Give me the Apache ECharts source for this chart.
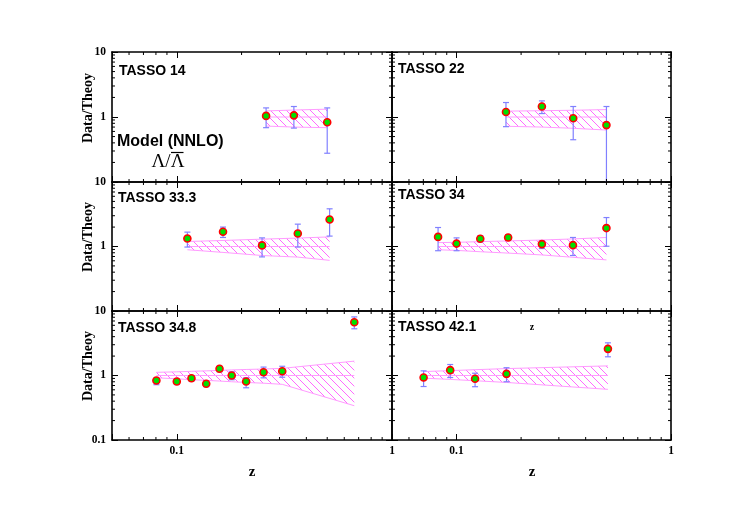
<!DOCTYPE html>
<html><head><meta charset="utf-8">
<script src="https://cdn.jsdelivr.net/npm/echarts@6/dist/echarts.min.js"></script>
<style>html,body{margin:0;padding:0;background:#fff}#c{width:747px;height:518px}</style>
</head><body><div id="c"></div>
<script>
// ---------------- data ----------------
const panelNames = ['TASSO 14', 'TASSO 22', 'TASSO 33.3', 'TASSO 34', 'TASSO 34.8', 'TASSO 42.1'];
const xTickLabels = ['0.1', '1'];
const yTickLabels = ['0.1', '1', '10'];

// TASSO 14
const z14 = [0.26, 0.35, 0.50];
const r14 = [1.04, 1.06, 0.83];
const lo14 = [0.685, 0.675, 0.277];
const hi14 = [1.38, 1.45, 1.38];
const bz14 = [0.26, 0.35, 0.50];
const bhi14 = [1.24, 1.28, 1.32];
const blo14 = [0.725, 0.70, 0.685];
// TASSO 22
const z22 = [0.17, 0.25, 0.35, 0.50];
const r22 = [1.195, 1.45, 0.955, 0.75];
const lo22 = [0.71, 1.13, 0.447, 0.05];
const hi22 = [1.67, 1.77, 1.45, 1.45];
const bz22 = [0.17, 0.25, 0.35, 0.50];
const bhi22 = [1.23, 1.25, 1.27, 1.30];
const blo22 = [0.72, 0.70, 0.67, 0.63];
// TASSO 33.3
const z333 = [0.112, 0.164, 0.249, 0.365, 0.513];
const r333 = [1.33, 1.69, 1.04, 1.59, 2.62];
const lo333 = [0.98, 1.38, 0.69, 0.98, 1.45];
const hi333 = [1.67, 2.0, 1.36, 2.22, 3.84];
const bz333 = [0.112, 0.164, 0.249, 0.365, 0.513];
const bhi333 = [1.195, 1.24, 1.30, 1.35, 1.41];
const blo333 = [0.89, 0.81, 0.725, 0.685, 0.61];
// TASSO 34
const z34 = [0.082, 0.10, 0.129, 0.174, 0.25, 0.349, 0.50];
const r34 = [1.41, 1.11, 1.32, 1.38, 1.09, 1.05, 1.93];
const lo34 = [0.86, 0.86, 1.18, 1.24, 0.93, 0.725, 1.01];
const hi34 = [1.97, 1.36, 1.46, 1.52, 1.22, 1.38, 2.81];
const bz34 = [0.082, 0.10, 0.129, 0.174, 0.25, 0.349, 0.50];
const bhi34 = [1.15, 1.16, 1.19, 1.22, 1.26, 1.31, 1.38];
const blo34 = [0.89, 0.87, 0.83, 0.79, 0.74, 0.68, 0.62];
// TASSO 34.8
const z348 = [0.0804, 0.10, 0.117, 0.137, 0.158, 0.18, 0.21, 0.253, 0.309, 0.668];
const r348 = [0.837, 0.807, 0.908, 0.743, 1.27, 1.0, 0.807, 1.125, 1.166, 6.7];
const lo348 = [0.72, 0.725, 0.82, 0.67, 1.14, 0.86, 0.645, 0.92, 0.94, 5.3];
const hi348 = [0.91, 0.87, 0.99, 0.83, 1.38, 1.14, 0.92, 1.35, 1.39, 8.1];
const bz348 = [0.0804, 0.10, 0.117, 0.137, 0.158, 0.18, 0.21, 0.253, 0.309, 0.668];
const bhi348 = [1.12, 1.14, 1.16, 1.18, 1.20, 1.22, 1.24, 1.26, 1.29, 1.67];
const blo348 = [0.92, 0.89, 0.86, 0.84, 0.82, 0.80, 0.78, 0.76, 0.73, 0.34];
// TASSO 42.1
const z421 = [0.0702, 0.0934, 0.122, 0.171, 0.508];
const r421 = [0.93, 1.21, 0.89, 1.06, 2.59];
const lo421 = [0.675, 0.93, 0.67, 0.80, 1.95];
const hi421 = [1.18, 1.48, 1.085, 1.32, 3.21];
const bz421 = [0.0702, 0.0934, 0.122, 0.171, 0.508];
const bhi421 = [1.15, 1.19, 1.23, 1.28, 1.41];
const blo421 = [0.91, 0.87, 0.83, 0.78, 0.61];

const bandCentre = 1;
const xMinor = [0.06, 0.07, 0.08, 0.09, 0.2, 0.3, 0.4, 0.5, 0.6, 0.7, 0.8, 0.9];
const yMinor = [0.2, 0.3, 0.4, 0.5, 0.6, 0.7, 0.8, 0.9, 2, 3, 4, 5, 6, 7, 8, 9];

const panels = [
  {z: z14, r: r14, lo: lo14, hi: hi14, bz: bz14, bhi: bhi14, blo: blo14},
  {z: z22, r: r22, lo: lo22, hi: hi22, bz: bz22, bhi: bhi22, blo: blo22},
  {z: z333, r: r333, lo: lo333, hi: hi333, bz: bz333, bhi: bhi333, blo: blo333},
  {z: z34, r: r34, lo: lo34, hi: hi34, bz: bz34, bhi: bhi34, blo: blo34},
  {z: z348, r: r348, lo: lo348, hi: hi348, bz: bz348, bhi: bhi348, blo: blo348},
  {z: z421, r: r421, lo: lo421, hi: hi421, bz: bz421, bhi: bhi421, blo: blo421}
];

// ---------------- layout ----------------
const colLeft = [112, 392];
const colWidth = [280, 279];
const rowTop = [52, 182, 311];
const rowHeight = [130, 129, 129];
const SERIF = '"Liberation Serif", "Times New Roman", serif';
const SANS = '"Liberation Sans", Arial, Helvetica, sans-serif';

function hatchCanvas() {
  const c = document.createElement('canvas');
  c.width = 8; c.height = 8;
  const g = c.getContext('2d');
  g.strokeStyle = '#ff6aff';
  g.lineWidth = 1;
  g.beginPath();
  g.moveTo(-1, -1); g.lineTo(9, 9);
  g.moveTo(-1, 7); g.lineTo(1, 9);
  g.moveTo(7, -1); g.lineTo(9, 1);
  g.stroke();
  return c;
}
const hatch = hatchCanvas();

function isDecade(v) {
  const l = Math.log10(v);
  return Math.abs(l - Math.round(l)) < 1e-6;
}
function labelOf(v, allowed) {
  if (!isDecade(v)) return '';
  const s = v >= 1 ? String(Math.round(v)) : String(+v.toPrecision(1));
  return allowed.indexOf(s) >= 0 ? s : '';
}

const grids = [], xAxes = [], yAxes = [], series = [];
const axisLine = {show: true, onZero: false, lineStyle: {color: '#000', width: 1.6}};
const majorTick = {show: true, inside: true, length: 6, lineStyle: {color: '#000', width: 1}};
const lblStyle = {color: '#000', fontFamily: SERIF, fontWeight: 'bold', fontSize: 11.5};

panels.forEach((p, i) => {
  const col = i % 2, row = Math.floor(i / 2);
  grids.push({left: colLeft[col], top: rowTop[row], width: colWidth[col], height: rowHeight[row], containLabel: false});
  const xShown = row === 2 ? xTickLabels : [];
  const yShown = row === 2 ? yTickLabels : yTickLabels.slice(1);
  const yShownL = col === 0 ? yShown : [];
  xAxes.push({type: 'log', logBase: 10, gridIndex: i, min: 0.05, max: 1, position: 'bottom',
    axisLine, axisTick: majorTick, splitLine: {show: false},
    axisLabel: Object.assign({show: row === 2, margin: 5, formatter: v => labelOf(v, xShown)}, lblStyle)});
  xAxes.push({type: 'log', logBase: 10, gridIndex: i, min: 0.05, max: 1, position: 'top',
    axisLine, axisTick: majorTick, splitLine: {show: false}, axisLabel: {show: false}});
  yAxes.push({type: 'log', logBase: 10, gridIndex: i, min: 0.1, max: 10, position: 'left',
    axisLine, axisTick: majorTick, splitLine: {show: false},
    axisLabel: Object.assign({show: col === 0, margin: 6, formatter: v => labelOf(v, yShownL)}, lblStyle)});
  yAxes.push({type: 'log', logBase: 10, gridIndex: i, min: 0.1, max: 10, position: 'right',
    axisLine, axisTick: majorTick, splitLine: {show: false}, axisLabel: {show: false}});

  const xi = 2 * i, yi = 2 * i;
  // theory band (hatched)
  series.push({
    type: 'custom', xAxisIndex: xi, yAxisIndex: yi, silent: true, z: 1,
    data: p.bz.map((v, k) => [v, p.bhi[k], p.blo[k]]),
    renderItem: (params, api) => {
      if (params.dataIndex !== 0) return null;
      const up = p.bz.map((v, k) => api.coord([v, p.bhi[k]]));
      const dn = p.bz.map((v, k) => api.coord([v, p.blo[k]]));
      const mid = [api.coord([p.bz[0], bandCentre]), api.coord([p.bz[p.bz.length - 1], bandCentre])];
      const poly = up.concat(dn.slice().reverse());
      const edge = {stroke: '#ff9cff', lineWidth: 1, fill: null};
      return {type: 'group', children: [
        {type: 'polygon', shape: {points: poly}, style: {fill: {image: hatch, repeat: 'repeat'}, stroke: null}},
        {type: 'polyline', shape: {points: up}, style: edge},
        {type: 'polyline', shape: {points: dn}, style: edge},
        {type: 'polyline', shape: {points: mid}, style: edge}
      ]};
    }
  });
  // error bars
  series.push({
    type: 'custom', xAxisIndex: xi, yAxisIndex: yi, silent: true, z: 2,
    data: p.z.map((v, k) => [v, p.lo[k], p.hi[k]]),
    renderItem: (params, api) => {
      const cs = params.coordSys;
      const a = api.coord([api.value(0), api.value(1)]);
      const b = api.coord([api.value(0), api.value(2)]);
      const bottom = cs.y + cs.height;
      const clipped = a[1] > bottom;
      const ya = Math.min(a[1], bottom);
      const st = {stroke: '#8080ff', lineWidth: 1.2};
      const ch = [
        {type: 'line', shape: {x1: a[0], y1: ya, x2: b[0], y2: b[1]}, style: st},
        {type: 'line', shape: {x1: b[0] - 3, y1: b[1], x2: b[0] + 3, y2: b[1]}, style: st}
      ];
      if (!clipped) ch.push({type: 'line', shape: {x1: a[0] - 3, y1: ya, x2: a[0] + 3, y2: ya}, style: st});
      return {type: 'group', children: ch};
    }
  });
  // data points
  series.push({
    type: 'scatter', xAxisIndex: xi, yAxisIndex: yi, z: 3, silent: true,
    symbol: 'circle', symbolSize: 7,
    itemStyle: {color: '#00e000', borderColor: '#ff0000', borderWidth: 1.6, opacity: 1},
    data: p.z.map((v, k) => [v, p.r[k]])
  });
  // minor ticks on all four sides
  series.push({
    type: 'custom', xAxisIndex: xi, yAxisIndex: yi, silent: true, z: 4,
    data: xMinor.map(v => [v, 1, 0]).concat(yMinor.map(v => [0.1, v, 1])),
    renderItem: (params, api) => {
      const cs = params.coordSys;
      const st = {stroke: '#000', lineWidth: 1};
      const L = 3;
      if (api.value(2) === 0) {
        const x = api.coord([api.value(0), 1])[0];
        const b = cs.y + cs.height;
        return {type: 'group', children: [
          {type: 'line', shape: {x1: x, y1: b, x2: x, y2: b - L}, style: st},
          {type: 'line', shape: {x1: x, y1: cs.y, x2: x, y2: cs.y + L}, style: st}
        ]};
      } else {
        const y = api.coord([0.1, api.value(1)])[1];
        const r = cs.x + cs.width;
        return {type: 'group', children: [
          {type: 'line', shape: {x1: cs.x, y1: y, x2: cs.x + L, y2: y}, style: st},
          {type: 'line', shape: {x1: r, y1: y, x2: r - L, y2: y}, style: st}
        ]};
      }
    }
  });
});

// ---------------- texts ----------------
const graphic = [];
const labelPos = [[119, 71], [398, 69.5], [118, 198.5], [398, 195.5], [118, 328.5], [398, 327]];
panelNames.forEach((t, i) => graphic.push({type: 'text', x: labelPos[i][0], y: labelPos[i][1],
  style: {text: t, font: 'bold 14px ' + SANS, fill: '#000', verticalAlign: 'middle', align: 'left'}}));
graphic.push({type: 'text', x: 117, y: 142, style: {text: 'Model (NNLO)', font: 'bold 16px ' + SANS, fill: '#000', verticalAlign: 'middle'}});
graphic.push({type: 'text', x: 168, y: 162.5, style: {text: 'Λ/Λ', font: '19px ' + SERIF, fill: '#000', align: 'center', verticalAlign: 'middle'}});
graphic.push({type: 'line', shape: {x1: 171, y1: 152.5, x2: 183.5, y2: 152.5}, style: {stroke: '#000', lineWidth: 1.2}});
[108, 237, 366].forEach(y => graphic.push({type: 'text', x: 88, y: y, rotation: Math.PI / 2,
  style: {text: 'Data/Theoy', font: 'bold 14px ' + SERIF, fill: '#000', align: 'center', verticalAlign: 'middle'}}));
[252, 532].forEach(x => graphic.push({type: 'text', x: x, y: 472,
  style: {text: 'z', font: 'bold 15px ' + SERIF, fill: '#000', align: 'center', verticalAlign: 'middle'}}));
graphic.push({type: 'text', x: 532, y: 327, style: {text: 'z', font: 'bold 10px ' + SERIF, fill: '#000', align: 'center', verticalAlign: 'middle'}});

const chart = echarts.init(document.getElementById('c'), null, {renderer: 'canvas'});
chart.setOption({
  animation: false,
  backgroundColor: '#fff',
  grid: grids, xAxis: xAxes, yAxis: yAxes, series: series, graphic: graphic
});
</script></body></html>
